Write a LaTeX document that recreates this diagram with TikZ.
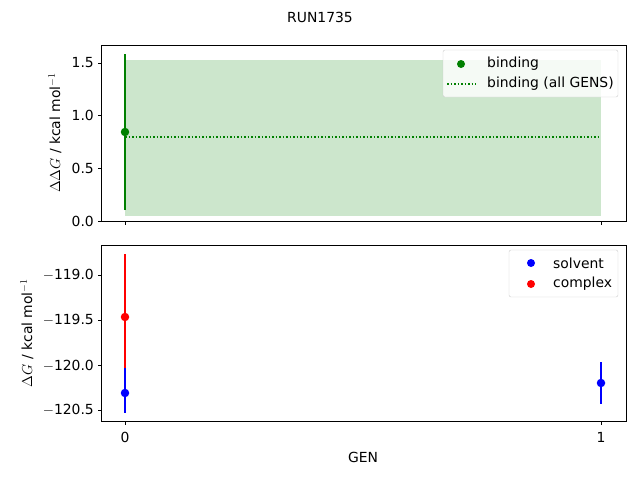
\documentclass[tikz,border=0pt]{standalone}
\usepackage{fontspec}
\setmainfont{DejaVu Sans}
\begin{document}
\begin{tikzpicture}[x=1pt,y=-1pt,
  lbl/.style={font=\fontsize{13.9}{16}\selectfont,inner sep=0pt},
  ax/.style={draw=black,line width=0.8pt},
  tk/.style={line width=0.8pt},
  pt/.style={circle,inner sep=0pt,minimum size=8.5pt}]
\useasboundingbox (0,0) rectangle (640,480);
\node[lbl] (title) at (320,17) {RUN1735};
% top axes
\fill[green!50!black,opacity=0.2] (125,216) rectangle (601,60);
\draw[green!50!black,dotted,line width=1.5pt] (125,137) -- (601,137);
\draw[green!50!black,line width=1.5pt] (125,210) -- (125,54);
\node[pt,fill=green!50!black] (b) at (125,132) {};
\draw[ax] (101,45) rectangle (626,221);
\foreach \v/\y in {0.0/221,0.5/168.3,1.0/115.7,1.5/63}{
  \draw[tk] (101,\y) -- (97.5,\y); \node[lbl,anchor=east] at (94,\y) {\v};}
\draw[tk] (125,221) -- (125,224.5);
\draw[tk] (601,221) -- (601,224.5);
\node[lbl,rotate=90] (yl1) at (55,133) {$\Delta\Delta G$ / kcal mol$^{-1}$};
% legend top
\draw[black!20,fill=white,fill opacity=0.8,rounded corners=2pt] (443,50) rectangle (618,97);
\node[pt,fill=green!50!black,minimum size=8pt] (lb) at (461,64) {};
\node[lbl,anchor=west] at (487,64) {binding};
\draw[green!50!black,dotted,line width=1.5pt] (447,84) -- (476,84);
\node[lbl,anchor=west] at (487,84) {binding (all GENS)};
% bottom axes
\draw[red,line width=1.5pt] (125,254) -- (125,382);
\draw[blue,line width=1.5pt] (125,368) -- (125,413);
\draw[blue,line width=1.5pt] (601,362) -- (601,404);
\node[pt,fill=red] (c0) at (125,317) {};
\node[pt,fill=blue] (s0) at (125,393) {};
\node[pt,fill=blue] (s1) at (601,383) {};
\draw[ax] (101,245) rectangle (626,421);
\foreach \v/\y in {{$-$119.0}/275,{$-$119.5}/320,{$-$120.0}/365.5,{$-$120.5}/410}{
  \draw[tk] (101,\y) -- (97.5,\y); \node[lbl,anchor=east] at (94,\y) {\v};}
\draw[tk] (125,421) -- (125,424.5); \node[lbl] at (125,437) {0};
\draw[tk] (601,421) -- (601,424.5); \node[lbl] at (601,437) {1};
\node[lbl] (xl) at (363,457) {GEN};
\node[lbl,rotate=90] (yl2) at (27,333) {$\Delta G$ / kcal mol$^{-1}$};
% legend bottom
\draw[black!20,fill=white,fill opacity=0.8,rounded corners=2pt] (509,250) rectangle (618,297);
\node[pt,fill=blue,minimum size=8pt] (ls) at (531,263) {};
\node[lbl,anchor=west] at (553,263) {solvent};
\node[pt,fill=red,minimum size=8pt] (lc) at (531,284) {};
\node[lbl,anchor=west] at (553,284) {complex};
\end{tikzpicture}
\end{document}
